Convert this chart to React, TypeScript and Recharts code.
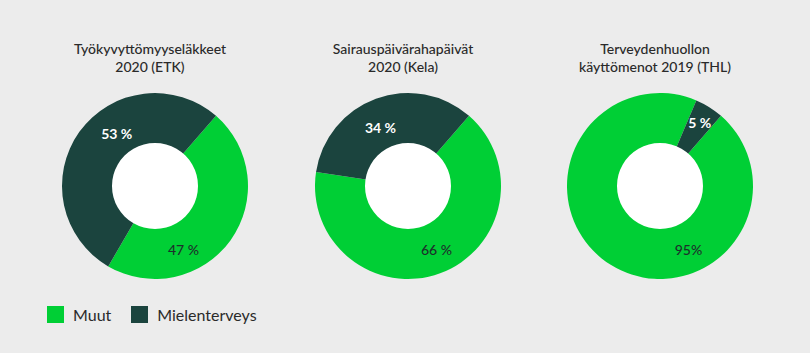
import React from 'react';
import { PieChart, Pie, Cell, Legend } from 'recharts';

// Värit
const GREEN = '#00cf35';
const DARK = '#1b443e';
const BG = '#ececec';
const FONT = 'Lato, "Noto Sans", sans-serif';

const categories = ['Muut', 'Mielenterveys'];

const etkValues = [47, 53];
const etkLabels = ['47 %', '53 %'];

const kelaValues = [66, 34];
const kelaLabels = ['66 %', '34 %'];

const thlValues = [95, 5];
const thlLabels = ['95%', '5 %'];

const titles = [
  ['Työkyvyttömyyseläkkeet', '2020 (ETK)'],
  ['Sairauspäivärahapäivät', '2020 (Kela)'],
  ['Terveydenhuollon', 'käyttömenot 2019 (THL)'],
];

const toRows = (values: number[]) =>
  categories.map((name, i) => ({ name, value: values[i] }));

const holeData = [{ name: 'hole', value: 1 }];

const RAD = Math.PI / 180;

// label: vihreä aina alhaalla, tumma omalla kulmallaan
const makeLabel =
  (labels: string[], darkAngle?: number) =>
  (props: any) => {
    const { cx, cy, midAngle, index } = props;
    const angle = index === 0 ? -66 : darkAngle ?? midAngle;
    const r = index === 0 ? 70 : darkAngle === undefined ? 75 : 65;
    const x = cx + r * Math.cos(-angle * RAD);
    const y = cy + r * Math.sin(-angle * RAD);
    return (
      <text
        x={x}
        y={y}
        textAnchor="middle"
        dominantBaseline="central"
        fill={index === 0 ? '#1d2f2b' : '#ffffff'}
        fontSize={14}
        fontWeight={index === 0 ? 500 : 700}
        fontFamily={FONT}
      >
        {labels[index]}
      </text>
    );
  };

const LegendContent = () => (
  <div style={{ display: 'flex', alignItems: 'center', fontFamily: FONT, fontSize: 16, color: '#2a2a2a' }}>
    {categories.map((name, i) => (
      <div key={name} style={{ display: 'flex', alignItems: 'center', marginRight: 20 }}>
        <span
          style={{
            width: 17,
            height: 17,
            background: i === 0 ? GREEN : DARK,
            marginRight: 9,
            display: 'inline-block',
          }}
        />
        <span>{name}</span>
      </div>
    ))}
  </div>
);

const pies = [
  { cx: 150, values: etkValues, labels: etkLabels, darkAngle: 126 },
  { cx: 403, values: kelaValues, labels: kelaLabels, darkAngle: 115 },
  { cx: 655, values: thlValues, labels: thlLabels, darkAngle: undefined },
];

export default function App() {
  return (
    <div style={{ position: 'fixed', left: 0, top: 0, width: 810, height: 353, background: BG }}>
      {titles.map((t, i) => (
        <div
          key={i}
          style={{
            position: 'absolute',
            left: pies[i].cx - 130,
            width: 260,
            top: 40,
            textAlign: 'center',
            fontFamily: FONT,
            fontSize: 14,
            fontWeight: 500,
            lineHeight: '18px',
            color: '#2a2a2a',
          }}
        >
          {t[0]}
          <br />
          {t[1]}
        </div>
      ))}
      <PieChart width={810} height={353} style={{ position: 'absolute', left: 0, top: 0 }}>
        {pies.map((p, k) => (
          <Pie
            key={`ring-${k}`}
            data={toRows(p.values)}
            dataKey="value"
            nameKey="name"
            cx={p.cx}
            cy={181}
            innerRadius={41}
            outerRadius={93}
            startAngle={49}
            endAngle={-311}
            stroke="none"
            labelLine={false}
            label={makeLabel(p.labels, p.darkAngle)}
            isAnimationActive={false}
          >
            <Cell fill={GREEN} />
            <Cell fill={DARK} />
          </Pie>
        ))}
        {pies.map((p, k) => (
          <Pie
            key={`hole-${k}`}
            data={holeData}
            dataKey="value"
            cx={p.cx}
            cy={181}
            outerRadius={43}
            fill="#ffffff"
            stroke="none"
            legendType="none"
            isAnimationActive={false}
          />
        ))}
        <Legend
          content={<LegendContent />}
          wrapperStyle={{ position: 'absolute', left: 47, top: 305, width: 400 }}
        />
      </PieChart>
    </div>
  );
}
